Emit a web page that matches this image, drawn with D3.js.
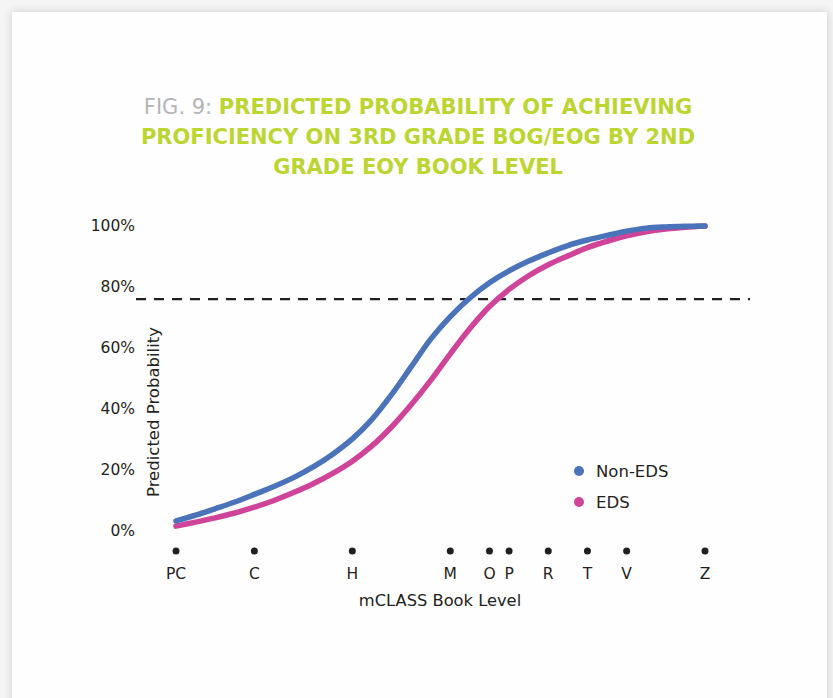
<!DOCTYPE html>
<html>
<head>
<meta charset="utf-8">
<script src="https://cdn.jsdelivr.net/npm/d3@7"></script>
<style>
  body { margin: 0; background: #f0f0f0; }
  #chart svg { display: block; }
</style>
</head>
<body>
<div id="chart"></div>
<script>
// Set dimensions
const width = 833;
const height = 698;

// Book levels shown on the x axis and their position on the level scale
const bookLevels = ["PC", "C", "H", "M", "O", "P", "R", "T", "V", "Z"];
const bookLevelPos = [0, 4, 9, 14, 16, 17, 19, 21, 23, 27];

// Level steps the curves are sampled at
const curveLevels = [0, 1, 2, 3, 4, 5, 6, 7, 8, 9, 10, 11, 12, 13, 14, 15, 16, 17, 18, 19, 20, 21, 22, 23, 24, 25, 26, 27];

// Predicted probability
const nonEdsProb = [0.033, 0.052, 0.073, 0.095, 0.120, 0.146, 0.175, 0.210, 0.252, 0.302, 0.366, 0.447, 0.538, 0.629,
                    0.703, 0.764, 0.814, 0.853, 0.885, 0.912, 0.936, 0.954, 0.969, 0.983, 0.993, 0.997, 0.999, 1.0];
const edsProb = [0.016, 0.029, 0.043, 0.059, 0.078, 0.100, 0.126, 0.155, 0.189, 0.229, 0.279, 0.341, 0.414, 0.494,
                 0.581, 0.664, 0.736, 0.792, 0.837, 0.873, 0.902, 0.929, 0.950, 0.968, 0.981, 0.990, 0.996, 1.0];

const yTicks = [0, 0.2, 0.4, 0.6, 0.8, 1.0];
const threshold = 0.76; // dashed proficiency line as drawn

const seriesNames = ["Non-EDS", "EDS"];
const seriesColors = ["#4a73b9", "#cf4498"];

const svg = d3.select("#chart").append("svg")
    .attr("width", width)
    .attr("height", height);

// card shadow
const defs = svg.append("defs");
const shadow = defs.append("filter")
    .attr("id", "shadow")
    .attr("x", "-5%").attr("y", "-5%")
    .attr("width", "110%").attr("height", "110%");
shadow.append("feDropShadow")
    .attr("dx", 0).attr("dy", 0)
    .attr("stdDeviation", 4)
    .attr("flood-color", "#000")
    .attr("flood-opacity", 0.18);

svg.append("rect")
    .attr("width", width).attr("height", height)
    .attr("fill", "#f5f5f5");

svg.append("rect")
    .attr("x", 12).attr("y", 12)
    .attr("width", 815).attr("height", height + 20)
    .attr("fill", "#fefefe")
    .attr("filter", "url(#shadow)");

// Title
const titleLines = [
    [["FIG. 9: ", "#b4b4b6", 400], ["PREDICTED PROBABILITY OF ACHIEVING", "#bcd531", 700]],
    [["PROFICIENCY ON 3RD GRADE BOG/EOG BY 2ND", "#bcd531", 700]],
    [["GRADE EOY BOOK LEVEL", "#bcd531", 700]]
];
const title = svg.append("text")
    .attr("text-anchor", "middle")
    .style("font-family", "'DejaVu Sans', sans-serif")
    .style("font-size", "21px");
titleLines.forEach((line, i) => {
    line.forEach((part, j) => {
        const ts = title.append("tspan")
            .attr("fill", part[1])
            .attr("font-weight", part[2])
            .text(part[0]);
        if (j === 0) ts.attr("x", 418).attr("y", 114 + i * 30);
    });
});

// Scales
const x = d3.scaleLinear().domain([0, 27]).range([176, 705]);
const y = d3.scaleLinear().domain([0, 1]).range([531, 226]);

const font = "'DejaVu Sans', sans-serif";
const ink = "#231f20";

// Y tick labels
svg.append("g")
    .selectAll("text")
    .data(yTicks)
    .join("text")
    .attr("x", 135)
    .attr("y", d => y(d))
    .attr("dy", "0.35em")
    .attr("text-anchor", "end")
    .attr("fill", ink)
    .style("font-family", font)
    .style("font-size", "15.5px")
    .text(d => d3.format(".0%")(d));

// Y title
svg.append("text")
    .attr("transform", "translate(159,412) rotate(-90)")
    .attr("text-anchor", "middle")
    .attr("fill", ink)
    .style("font-family", font)
    .style("font-size", "16.5px")
    .text("Predicted Probability");

// Threshold line
svg.append("line")
    .attr("x1", 136).attr("x2", 750)
    .attr("y1", y(threshold)).attr("y2", y(threshold))
    .attr("stroke", ink)
    .attr("stroke-width", 2.2)
    .attr("stroke-dasharray", "10,8");

// X dots and labels
const xg = svg.append("g");
xg.selectAll("circle")
    .data(bookLevelPos)
    .join("circle")
    .attr("cx", d => x(d))
    .attr("cy", 551)
    .attr("r", 3.5)
    .attr("fill", ink);
xg.selectAll("text")
    .data(bookLevels)
    .join("text")
    .attr("x", (d, i) => x(bookLevelPos[i]))
    .attr("y", 579)
    .attr("text-anchor", "middle")
    .attr("fill", ink)
    .style("font-family", font)
    .style("font-size", "15.5px")
    .text(d => d);

svg.append("text")
    .attr("x", 440).attr("y", 606)
    .attr("text-anchor", "middle")
    .attr("fill", ink)
    .style("font-family", font)
    .style("font-size", "16.3px")
    .text("mCLASS Book Level");

// Curves
const line = d3.line()
    .x((d, i) => x(curveLevels[i]))
    .y(d => y(d))
    .curve(d3.curveCatmullRom);

[edsProb, nonEdsProb].forEach((s, k) => {
    svg.append("path")
        .datum(s)
        .attr("d", line)
        .attr("fill", "none")
        .attr("stroke", k === 0 ? seriesColors[1] : seriesColors[0])
        .attr("stroke-width", 5.5)
        .attr("stroke-linecap", "round");
});

// Legend
const legend = svg.append("g")
    .selectAll("g")
    .data(seriesNames)
    .join("g")
    .attr("transform", (d, i) => `translate(579,${471 + i * 31})`);
legend.append("circle")
    .attr("r", 5)
    .attr("fill", (d, i) => seriesColors[i]);
legend.append("text")
    .attr("x", 17)
    .attr("dy", "0.35em")
    .attr("fill", ink)
    .style("font-family", font)
    .style("font-size", "16.5px")
    .text(d => d);
</script>
</body>
</html>
